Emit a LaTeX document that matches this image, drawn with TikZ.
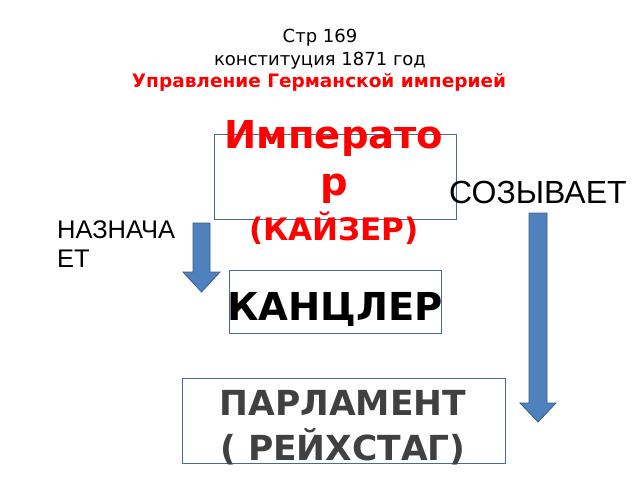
\documentclass[tikz,border=0pt]{standalone}
\usepackage{fontspec}
\newfontfamily\dv{DejaVu Sans}
\newfontfamily\lib{Liberation Sans}
\definecolor{boxline}{HTML}{4A6A96}
\definecolor{arrfill}{HTML}{4F81BD}
\definecolor{arrline}{HTML}{385D8A}
\definecolor{pred}{HTML}{FF0000}
\definecolor{pgray}{HTML}{404040}
\tikzset{
  frame/.style={draw=boxline, line width=0.9pt},
  blockarrow/.style={fill=arrfill, draw=arrline, line width=0.8pt, line join=miter},
  txt/.style={inner sep=0pt, anchor=base},
}
\begin{document}
\begin{tikzpicture}[x=1pt,y=-1pt]
\useasboundingbox (0,0) rectangle (640,480);
% title
\node[txt, font=\dv\fontsize{18}{21}\selectfont] (t1) at (320,42) {Стр 169};
\node[txt, font=\dv\fontsize{18}{21}\selectfont] (t2) at (320,65) {конституция 1871 год};
\node[txt, font=\dv\bfseries\fontsize{18.5}{21}\selectfont, text=pred] (t3) at (319,87) {Управление Германской империей};
% emperor box
\draw[frame] (214,134) rectangle (456,219);
\node[txt, font=\dv\bfseries\fontsize{38.5}{44}\selectfont, text=pred] (e1) at (334,148) {Императо};
\node[txt, font=\dv\bfseries\fontsize{38.5}{44}\selectfont, text=pred] (e2) at (334,195) {р};
\node[txt, font=\dv\bfseries\fontsize{31}{36}\selectfont, text=pred] (e3) at (334,240) {(КАЙЗЕР)};
% side labels
\node[txt, font=\lib\fontsize{32}{38}\selectfont, anchor=base west] (s1) at (449,203) {СОЗЫВАЕТ};
\node[txt, font=\lib\fontsize{25.5}{30}\selectfont, anchor=base west] (n1) at (57,238) {НАЗНАЧА};
\node[txt, font=\lib\fontsize{25.5}{30}\selectfont, anchor=base west] (n2) at (57,267) {ЕТ};
% chancellor box
\draw[frame] (229,270) rectangle (441,333);
\node[txt, font=\dv\bfseries\fontsize{38.5}{44}\selectfont] (k1) at (335,320) {КАНЦЛЕР};
% parliament box
\draw[frame] (182,378) rectangle (505,463);
\node[txt, font=\dv\bfseries\fontsize{34.5}{40}\selectfont, text=pgray] (p1) at (343,415) {ПАРЛАМЕНТ};
\node[txt, font=\dv\bfseries\fontsize{34.5}{40}\selectfont, text=pgray] (p2) at (343,460) {( РЕЙХСТАГ)};
% arrows
\draw[blockarrow] (193,223) -- (210,223) -- (210,272) -- (220,272) -- (201.5,292) -- (183,272) -- (193,272) -- cycle;
\draw[blockarrow] (529,213) -- (547,213) -- (547,403) -- (556,403) -- (538,422) -- (520,403) -- (529,403) -- cycle;
\end{tikzpicture}
\end{document}
